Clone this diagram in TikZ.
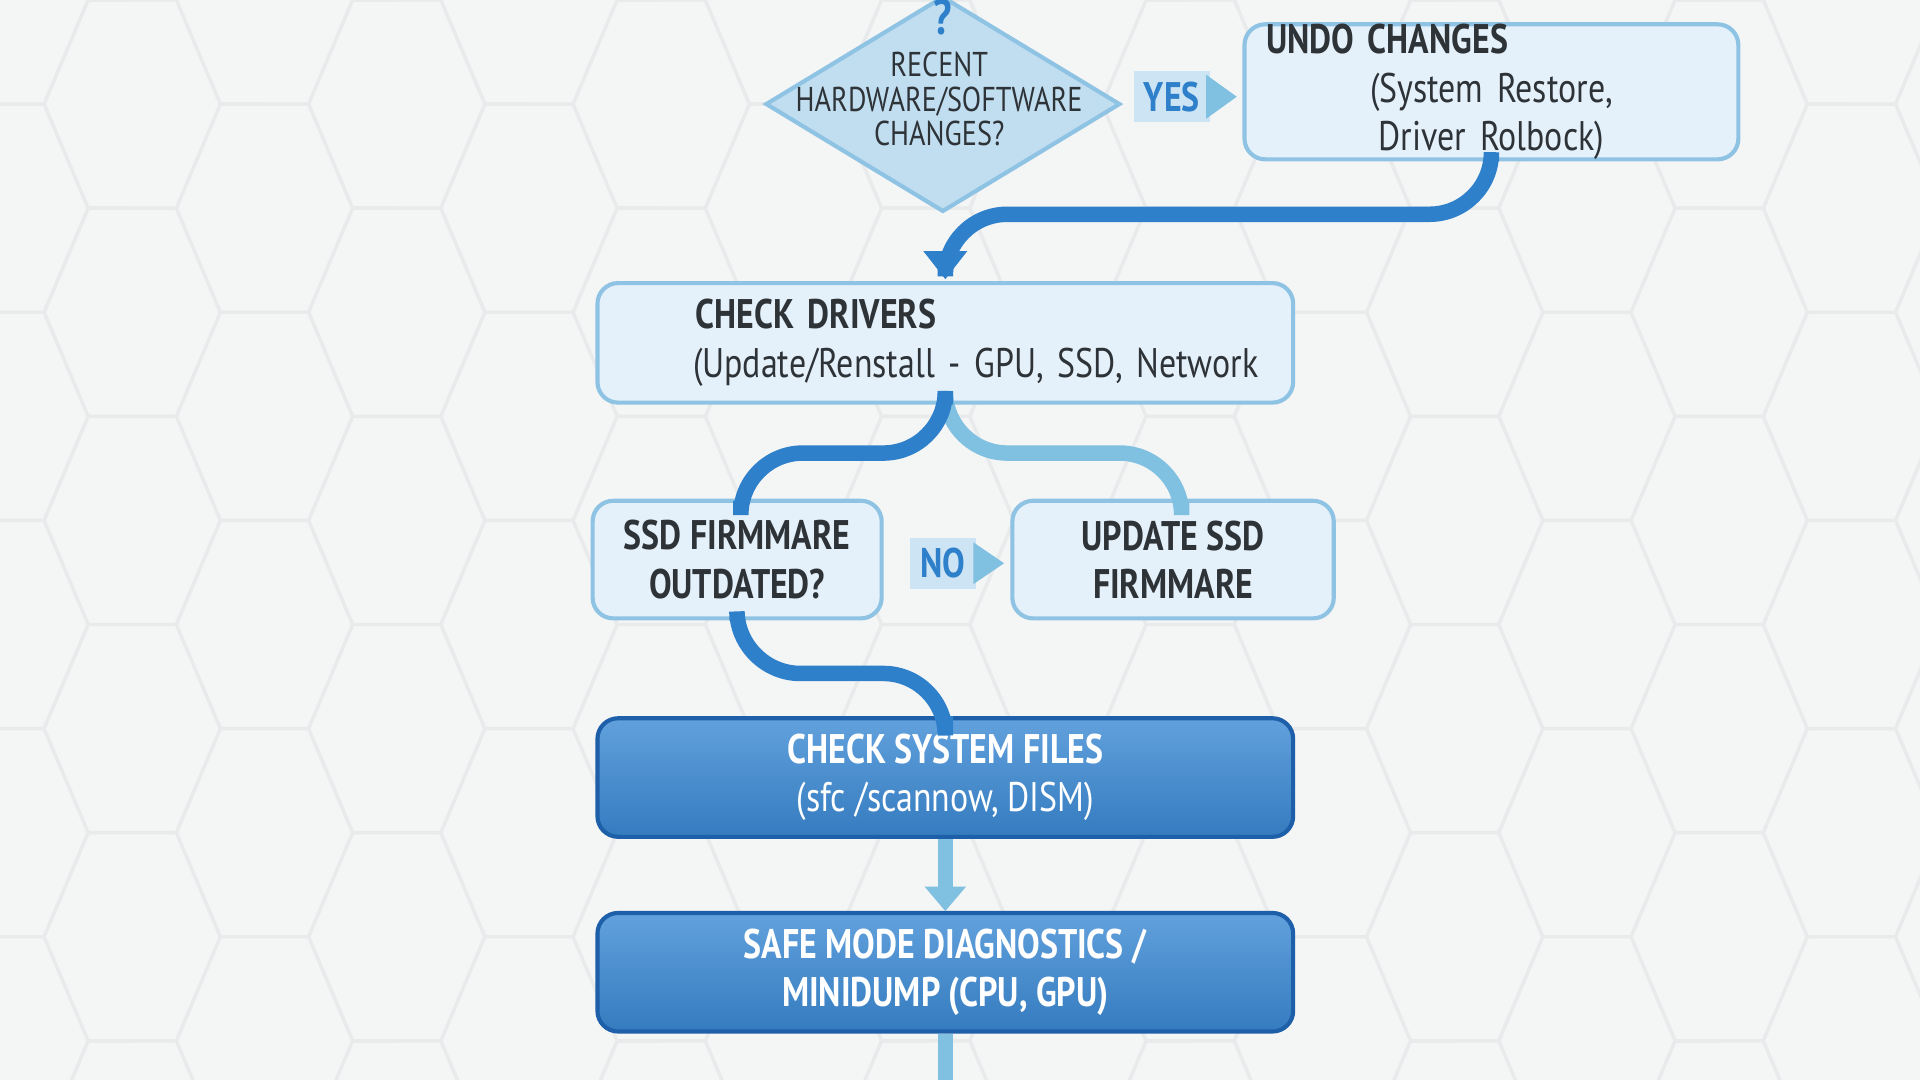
\documentclass[tikz,border=0pt]{standalone}
\usepackage{fontspec}
\setmainfont{PT Sans}[FakeStretch=0.82]
\usetikzlibrary{positioning, shapes.geometric, arrows.meta, calc}
\definecolor{bgc}{HTML}{F4F5F5}
\definecolor{hexc}{HTML}{E8EAEB}
\definecolor{lightfill}{HTML}{E5F1FA}
\definecolor{lightedge}{HTML}{8EC3E4}
\definecolor{darkline}{HTML}{2F80CA}
\definecolor{paleline}{HTML}{80C0E0}
\definecolor{darkfill}{HTML}{3A89D4}
\definecolor{darkedge}{HTML}{1D5FA8}
\definecolor{txt}{HTML}{2E3338}
\tikzset{
    lightbox/.style={draw=lightedge, fill=lightfill, line width=1.2pt, rounded corners=6pt, text=txt, align=center, font=\large, inner sep=0pt},
    darkbox/.style={draw=darkedge, top color=darkfill!80!white, bottom color=darkfill!90!black, line width=1.2pt, rounded corners=6pt, text=white, align=center, font=\large, inner sep=0pt},
    tag/.style={fill=lightedge!45, text=darkline, font=\large\bfseries, inner sep=3pt},
    flow/.style={draw=darkline, line width=4.5pt, rounded corners=18pt},
    paleflow/.style={draw=paleline, line width=4.5pt, rounded corners=18pt},
}
\begin{document}
\begin{tikzpicture}[x=0.0125cm, y=-0.0125cm]
    \useasboundingbox (0,0) rectangle (1568,882);
    \fill[bgc] (0,0) rectangle (1568,882);
    % background hexagons
    \begin{scope}
      \clip (0,0) rectangle (1568,882);
      \foreach \i in {0,...,14} {
        \foreach \j in {-1,...,5} {
          \pgfmathsetmacro{\hx}{\i*108}
          \pgfmathsetmacro{\hy}{\j*170 + mod(\i,2)*85}
          \draw[hexc, line width=1pt, shift={(\hx,\hy)}]
            (-36,-85) -- (36,-85) -- (72,0) -- (36,85);
          \draw[hexc, line width=1pt, shift={(\hx,\hy)}] (72,0) -- (108,0);
        }
      }
    \end{scope}

    \node[diamond, draw=lightedge, fill=lightedge!55!white, line width=1.2pt, inner sep=0pt,
          minimum width=3.62cm, minimum height=2.2cm] (recent) at (770,85) {};
    \node[text=darkline, font=\Large\bfseries] (qmark) at (770,14) {?};
    \node[text=txt, align=center, font=\normalsize] (recenttext) at (767,81)
      {RECENT\\[-2pt]HARDWARE/SOFTWARE\\[-2pt]CHANGES?};

    \node[lightbox, text width=4.8cm, minimum width=5.04cm, minimum height=1.2cm] (undo) at (1218,75)
      {\raggedright\hspace*{0.1cm}\textbf{UNDO CHANGES}\\\centering(System Restore, Driver Rolbock)};
    \node[tag] (yes) at (957,79) {YES};
    \fill[paleline] (985,61) -- (1010,79) -- (985,97) -- cycle;

    \node[lightbox, text width=6.8cm, minimum width=7.1cm, minimum height=1.22cm] (drivers) at (772,280)
      {\raggedright\hspace*{0.85cm}\textbf{CHECK DRIVERS}\\\hspace*{0.62cm}(Update/Renstall - GPU, SSD, Network};

    \node[lightbox, minimum width=2.95cm, minimum height=1.2cm] (ssd) at (602,457)
      {\textbf{SSD FIRMMARE}\\\textbf{OUTDATED?}};
    \node[lightbox, minimum width=3.28cm, minimum height=1.2cm] (update) at (958,457)
      {\textbf{UPDATE SSD}\\\textbf{FIRMMARE}};
    \node[tag] (no) at (770,460) {NO};
    \fill[paleline] (795,443) -- (820,460) -- (795,477) -- cycle;

    \node[darkbox, minimum width=7.1cm, minimum height=1.21cm] (sysfiles) at (772,635)
      {\textbf{CHECK SYSTEM FILES}\\(sfc /scannow, DISM)};
    \node[darkbox, minimum width=7.1cm, minimum height=1.21cm] (safemode) at (772,794)
      {\textbf{SAFE MODE DIAGNOSTICS /}\\\textbf{MINIDUMP (CPU, GPU)}};
    \coordinate (tail) at (772,882);

    % connectors
    \draw[flow] (undo.south) -- (1218,175) -- (772,175) -- (772,206);
    \fill[darkline] (754,205) -- (790,205) -- (772,228) -- cycle;
    \draw[paleflow] (drivers.south) -- (772,370) -- (965,370) -- (965,409);
    \draw[flow] (drivers.south) -- (772,370) -- (605,370) -- (605,409);
    \draw[flow] (ssd.south) -- (603,550) -- (772,550) -- (sysfiles.north);
    \draw[paleline, line width=4.5pt] (sysfiles.south) -- (772,728);
    \fill[paleline] (755,724) -- (789,724) -- (772,744) -- cycle;
    \draw[paleline, line width=4.5pt] (safemode.south) -- (tail);
\end{tikzpicture}
\end{document}
